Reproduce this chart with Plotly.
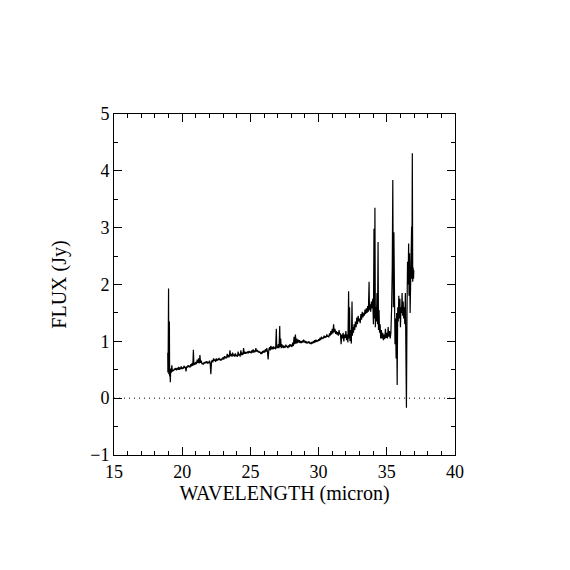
import plotly.graph_objects as go

# spectrum
wavelength = [
    18.94, 18.95, 18.97, 19.00, 19.02, 19.04, 19.06, 19.08, 19.10, 19.13, 19.16, 19.20, 19.24, 19.28,
    19.33, 19.38, 19.43, 19.48, 19.53, 19.58, 19.63, 19.68, 19.73, 19.78, 19.83, 19.88, 19.93, 19.98,
    20.03, 20.08, 20.13, 20.18, 20.23, 20.28, 20.33, 20.38, 20.43, 20.48, 20.53, 20.58, 20.63, 20.68,
    20.73, 20.78, 20.82, 20.86, 20.90, 20.95, 21.00, 21.05, 21.10, 21.15, 21.20, 21.25, 21.30, 21.35,
    21.40, 21.45, 21.50, 21.55, 21.60, 21.65, 21.70, 21.75, 21.80, 21.85, 21.90, 21.95, 22.00, 22.05,
    22.10, 22.15, 22.20, 22.25, 22.30, 22.35, 22.40, 22.45, 22.50, 22.55, 22.60, 22.65, 22.70, 22.75,
    22.80, 22.85, 22.90, 22.95, 23.00, 23.05, 23.10, 23.15, 23.20, 23.25, 23.30, 23.35, 23.40, 23.45,
    23.50, 23.55, 23.60, 23.65, 23.70, 23.75, 23.80, 23.85, 23.90, 23.95, 24.00, 24.05, 24.10, 24.15,
    24.20, 24.25, 24.30, 24.35, 24.40, 24.45, 24.50, 24.55, 24.60, 24.65, 24.70, 24.75, 24.80, 24.85,
    24.90, 24.95, 25.00, 25.05, 25.10, 25.15, 25.20, 25.25, 25.30, 25.35, 25.40, 25.45, 25.50, 25.55,
    25.60, 25.65, 25.70, 25.75, 25.80, 25.85, 25.90, 25.95, 26.00, 26.05, 26.10, 26.15, 26.20, 26.25,
    26.30, 26.35, 26.40, 26.45, 26.50, 26.55, 26.60, 26.65, 26.70, 26.75, 26.80, 26.85, 26.90, 26.93,
    26.97, 27.00, 27.05, 27.10, 27.15, 27.18, 27.22, 27.26, 27.30, 27.35, 27.40, 27.45, 27.50, 27.55,
    27.60, 27.65, 27.70, 27.75, 27.80, 27.85, 27.90, 27.95, 28.00, 28.05, 28.10, 28.15, 28.20, 28.25,
    28.30, 28.35, 28.40, 28.45, 28.50, 28.55, 28.60, 28.65, 28.70, 28.75, 28.80, 28.85, 28.90, 28.95,
    29.00, 29.05, 29.10, 29.15, 29.20, 29.25, 29.30, 29.35, 29.40, 29.45, 29.50, 29.55, 29.60, 29.65,
    29.70, 29.75, 29.80, 29.85, 29.90, 29.95, 30.00, 30.05, 30.10, 30.15, 30.20, 30.25, 30.30, 30.35,
    30.40, 30.45, 30.50, 30.55, 30.60, 30.65, 30.70, 30.75, 30.80, 30.85, 30.90, 30.95, 31.00, 31.05,
    31.10, 31.15, 31.20, 31.25, 31.30, 31.35, 31.40, 31.45, 31.50, 31.55, 31.60, 31.65, 31.70, 31.75,
    31.80, 31.85, 31.90, 31.95, 32.00, 32.05, 32.10, 32.15, 32.20, 32.23, 32.27, 32.30, 32.35, 32.40,
    32.45, 32.48, 32.52, 32.56, 32.60, 32.65, 32.70, 32.75, 32.80, 32.85, 32.90, 32.95, 33.00, 33.05,
    33.10, 33.15, 33.20, 33.25, 33.30, 33.35, 33.40, 33.45, 33.50, 33.55, 33.60, 33.65, 33.70, 33.73,
    33.77, 33.82, 33.87, 33.92, 33.97, 34.02, 34.06, 34.09, 34.13, 34.16, 34.20, 34.24, 34.28, 34.32,
    34.36, 34.39, 34.43, 34.47, 34.51, 34.55, 34.60, 34.65, 34.70, 34.75, 34.80, 34.85, 34.90, 34.95,
    35.00, 35.05, 35.10, 35.15, 35.20, 35.25, 35.30, 35.35, 35.40, 35.44, 35.48, 35.52, 35.56, 35.60,
    35.64, 35.68, 35.72, 35.76, 35.80, 35.84, 35.88, 35.92, 35.96, 36.00, 36.04, 36.08, 36.12, 36.16,
    36.20, 36.24, 36.28, 36.32, 36.36, 36.40, 36.44, 36.48, 36.52, 36.56, 36.60, 36.63, 36.67, 36.71,
    36.75, 36.79, 36.82, 36.84, 36.87, 36.90, 36.93, 36.96, 36.98,
]

flux = [
    0.80, 0.45, 0.62, 1.93, 0.42, 0.55, 1.35, 0.38, 0.50, 0.28, 0.52, 0.45, 0.58, 0.47,
    0.50, 0.48, 0.52, 0.50, 0.53, 0.49, 0.52, 0.51, 0.55, 0.50, 0.53, 0.52, 0.56, 0.51,
    0.54, 0.52, 0.57, 0.53, 0.55, 0.47, 0.56, 0.54, 0.58, 0.55, 0.57, 0.54, 0.60, 0.56,
    0.62, 0.57, 0.85, 0.58, 0.62, 0.59, 0.64, 0.60, 0.68, 0.62, 0.70, 0.61, 0.76, 0.62,
    0.66, 0.60, 0.62, 0.59, 0.63, 0.61, 0.64, 0.62, 0.65, 0.61, 0.63, 0.62, 0.66, 0.62,
    0.42, 0.64, 0.67, 0.63, 0.70, 0.66, 0.68, 0.64, 0.70, 0.66, 0.69, 0.67, 0.71, 0.67,
    0.69, 0.66, 0.70, 0.68, 0.72, 0.68, 0.74, 0.70, 0.73, 0.70, 0.78, 0.72, 0.76, 0.72,
    0.84, 0.74, 0.78, 0.73, 0.80, 0.74, 0.77, 0.73, 0.79, 0.74, 0.76, 0.73, 0.82, 0.75,
    0.78, 0.73, 0.84, 0.76, 0.80, 0.76, 0.88, 0.78, 0.82, 0.78, 0.81, 0.79, 0.82, 0.79,
    0.83, 0.80, 0.82, 0.79, 0.84, 0.80, 0.86, 0.80, 0.84, 0.81, 0.88, 0.82, 0.85, 0.81,
    0.83, 0.80, 0.82, 0.78, 0.80, 0.78, 0.83, 0.80, 0.84, 0.80, 0.86, 0.82, 0.88, 0.82,
    0.68, 0.85, 0.90, 0.84, 0.92, 0.86, 0.90, 0.86, 0.91, 0.87, 0.89, 0.86, 1.22, 0.88,
    0.92, 0.88, 0.95, 0.88, 1.27, 0.90, 1.05, 0.88, 0.95, 0.89, 0.93, 0.88, 0.92, 0.89,
    0.94, 0.90, 0.92, 0.88, 0.93, 0.90, 0.95, 0.91, 0.94, 0.90, 0.98, 0.92, 1.08, 0.95,
    1.12, 0.96, 1.05, 0.97, 1.03, 0.98, 1.02, 0.97, 1.00, 0.97, 1.01, 0.98, 1.03, 0.98,
    1.01, 0.97, 1.00, 0.96, 0.99, 0.97, 1.00, 0.96, 0.98, 0.95, 0.99, 0.96, 1.00, 0.97,
    1.02, 0.98, 1.03, 0.99, 1.02, 1.00, 1.04, 1.01, 1.06, 1.02, 1.08, 1.04, 1.07, 1.05,
    1.10, 1.06, 1.09, 1.07, 1.12, 1.08, 1.10, 1.07, 1.14, 1.10, 1.18, 1.12, 1.22, 1.14,
    1.30, 1.16, 1.22, 1.13, 1.18, 1.12, 1.16, 1.10, 1.20, 1.12, 1.14, 0.95, 1.12, 1.05,
    1.15, 1.00, 1.12, 1.06, 1.18, 1.02, 1.12, 0.98, 1.88, 1.05, 1.60, 1.00, 1.20, 0.96,
    1.70, 1.10, 1.25, 1.15, 1.30, 1.20, 1.35, 1.25, 1.42, 1.30, 1.45, 1.35, 1.40, 1.32,
    1.48, 1.38, 1.52, 1.42, 1.50, 1.45, 1.56, 1.48, 1.58, 1.50, 1.62, 1.52, 2.05, 1.55,
    1.65, 1.52, 1.70, 1.58, 1.75, 1.30, 2.98, 1.40, 3.35, 1.25, 1.60, 1.35, 1.85, 1.30,
    2.75, 1.20, 1.55, 1.15, 1.30, 1.05, 1.20, 1.05, 1.15, 1.02, 1.12, 1.04, 1.22, 1.06,
    1.15, 1.05, 1.25, 1.08, 1.18, 1.05, 1.15, 1.55, 2.30, 3.84, 1.60, 2.92, 1.10, 0.95,
    1.40, 0.70, 1.50, 0.23, 1.60, 1.35, 1.80, 1.40, 1.75, 1.25, 1.60, 1.50, 1.85, 1.45,
    1.70, 1.40, 1.60, 1.30, 1.85, 1.20, -0.17, 1.50, 2.40, 2.00, 2.72, 1.80, 2.55, 1.50,
    2.30, 2.90, 3.02, 2.10, 4.31, 2.05, 2.30, 2.10, 2.25,
]

x_range = [15, 40]
y_range = [-1, 5]
x_ticks = [15, 20, 25, 30, 35, 40]
y_ticks = [-1, 0, 1, 2, 3, 4, 5]

tick_font = dict(family="Liberation Serif, DejaVu Serif, serif", size=18, color="black")
title_font = dict(family="Liberation Serif, DejaVu Serif, serif", size=20, color="black")

fig = go.Figure()
fig.add_trace(go.Scatter(x=wavelength, y=flux, mode="lines",
                         line=dict(color="black", width=1.2), showlegend=False))

# zero level
fig.add_hline(y=0, line=dict(color="black", width=1, dash="1px,4px"))

axis_common = dict(
    showgrid=False, zeroline=False, showline=True, linecolor="black", linewidth=1,
    mirror="allticks", ticks="inside", ticklen=8, tickcolor="black", tickwidth=1,
    tickfont=tick_font,
)

fig.update_xaxes(range=x_range, tickvals=x_ticks,
                 title=dict(text="WAVELENGTH (micron)", font=title_font, standoff=0),
                 minor=dict(dtick=1, ticks="inside", ticklen=4, tickcolor="black", showgrid=False),
                 **axis_common)
fig.update_yaxes(range=y_range, tickvals=y_ticks,
                 title=dict(text="FLUX (Jy)", font=title_font, standoff=18),
                 minor=dict(dtick=0.5, ticks="inside", ticklen=4, tickcolor="black", showgrid=False),
                 **axis_common)

fig.update_layout(
    width=570, height=570,
    margin=dict(l=106, r=123, t=106, b=123),
    plot_bgcolor="white", paper_bgcolor="white",
    font=tick_font,
)

fig.write_html("out.html")
